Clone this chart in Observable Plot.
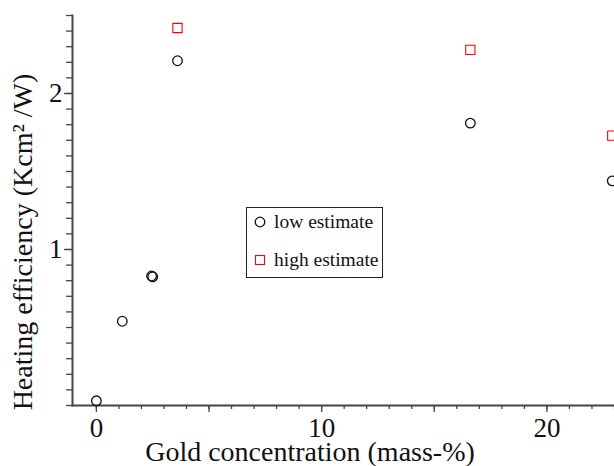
<!DOCTYPE html>
<html><head><meta charset="utf-8">
<script src="https://cdn.jsdelivr.net/npm/d3@7"></script>
<script src="https://cdn.jsdelivr.net/npm/@observablehq/plot@0.6"></script>
<style>
body{margin:0;background:#fff;}
#wrap{position:relative;width:614px;height:466px;overflow:hidden;}
.legend{position:absolute;left:246px;top:207px;width:135px;height:69px;border:1px solid #222;background:#fff;font-family:"Liberation Serif",serif;font-size:19.5px;color:#111;}
.legend .row{position:absolute;left:6px;display:flex;align-items:center;white-space:nowrap;}
.legend svg{margin-right:7px;}
</style></head><body><div id="wrap"></div>
<script>
// Data
const lowX  = [0, 1.15, 2.45, 2.5, 3.6, 16.6, 22.9];
const lowY  = [0.03, 0.54, 0.83, 0.825, 2.21, 1.81, 1.44];
const highX = [3.6, 16.6, 22.9];
const highY = [2.42, 2.28, 1.73];
const seriesNames = ["low estimate", "high estimate"];
const xTitle = "Gold concentration (mass-%)";
const yTitle = "Heating efficiency (Kcm\u00B2 /W)";
const xTickLabels = [0, 10, 20];
const yTickLabels = [1, 2];
const xMinorTicks = d3.range(0, 24, 1);
const xMidTicks = [0, 5, 10, 15, 20];
const yMinorTicks = d3.range(0, 26).map(i => i / 10);

const low = lowX.map((x, i) => ({x, y: lowY[i]}));
const high = highX.map((x, i) => ({x, y: highY[i]}));

const font = '"Liberation Serif", serif';
const axisColor = "#444";
const noText = () => "";

const chart = Plot.plot({
  width: 614,
  height: 466,
  marginLeft: 72,
  marginRight: 0,
  marginTop: 15,
  marginBottom: 61,
  style: {fontFamily: font, fontSize: "27px", color: "#111", background: "#fff"},
  x: {domain: [-1.06, 23]},
  y: {domain: [0, 2.5]},
  marks: [
    Plot.axisX(xMinorTicks, {tickSize: 4, tickFormat: noText, label: null, stroke: axisColor, strokeWidth: 1.3}),
    Plot.axisX(xMidTicks, {tickSize: 7, tickFormat: noText, label: null, stroke: axisColor, strokeWidth: 1.3}),
    Plot.axisX(xTickLabels, {tickSize: 0, tickPadding: 12, fontSize: 27, fill: "#111", tickFormat: d3.format("d"), label: null}),
    Plot.axisY(yMinorTicks, {tickSize: 6, tickFormat: noText, label: null, stroke: axisColor, strokeWidth: 1.3}),
    Plot.axisY(yTickLabels, {tickSize: 8, tickPadding: 2, fontSize: 27, stroke: axisColor, strokeWidth: 1.3,
      tickFormat: d3.format("d"), label: null}),
    Plot.text([xTitle], {text: d => d, frameAnchor: "bottom", textAnchor: "middle", dx: -33.5, dy: 47, lineAnchor: "middle",
      fontSize: 28, fill: "#111"}),
    Plot.text([yTitle], {text: d => d, frameAnchor: "left", textAnchor: "middle", rotate: -90, dx: -49, dy: 31.5, lineAnchor: "middle",
      fontSize: 28, fill: "#111"}),
    Plot.frame({anchor: "left", stroke: axisColor, strokeWidth: 2}),
    Plot.frame({anchor: "bottom", stroke: axisColor, strokeWidth: 2}),
    Plot.dot(low, {x: "x", y: "y", r: 4.8, stroke: "#111", strokeWidth: 1.3, fill: "none"}),
    Plot.dot(high, {x: "x", y: "y", symbol: "square", r: 5.2, stroke: "#f00", strokeWidth: 1.1, fill: "none"})
  ]
});
const wrap = document.getElementById("wrap");
wrap.appendChild(chart);

const legend = document.createElement("div");
legend.className = "legend";
legend.innerHTML = `
  <div class="row" style="top:3px"><svg width="14" height="14"><circle cx="7" cy="7" r="4.8" fill="none" stroke="#111" stroke-width="1.3"/></svg><span>${seriesNames[0]}</span></div>
  <div class="row" style="top:41px"><svg width="14" height="14"><rect x="2.5" y="2.5" width="9" height="9" fill="none" stroke="#f00" stroke-width="1.1"/></svg><span>${seriesNames[1]}</span></div>`;
wrap.appendChild(legend);
</script>
</body></html>
